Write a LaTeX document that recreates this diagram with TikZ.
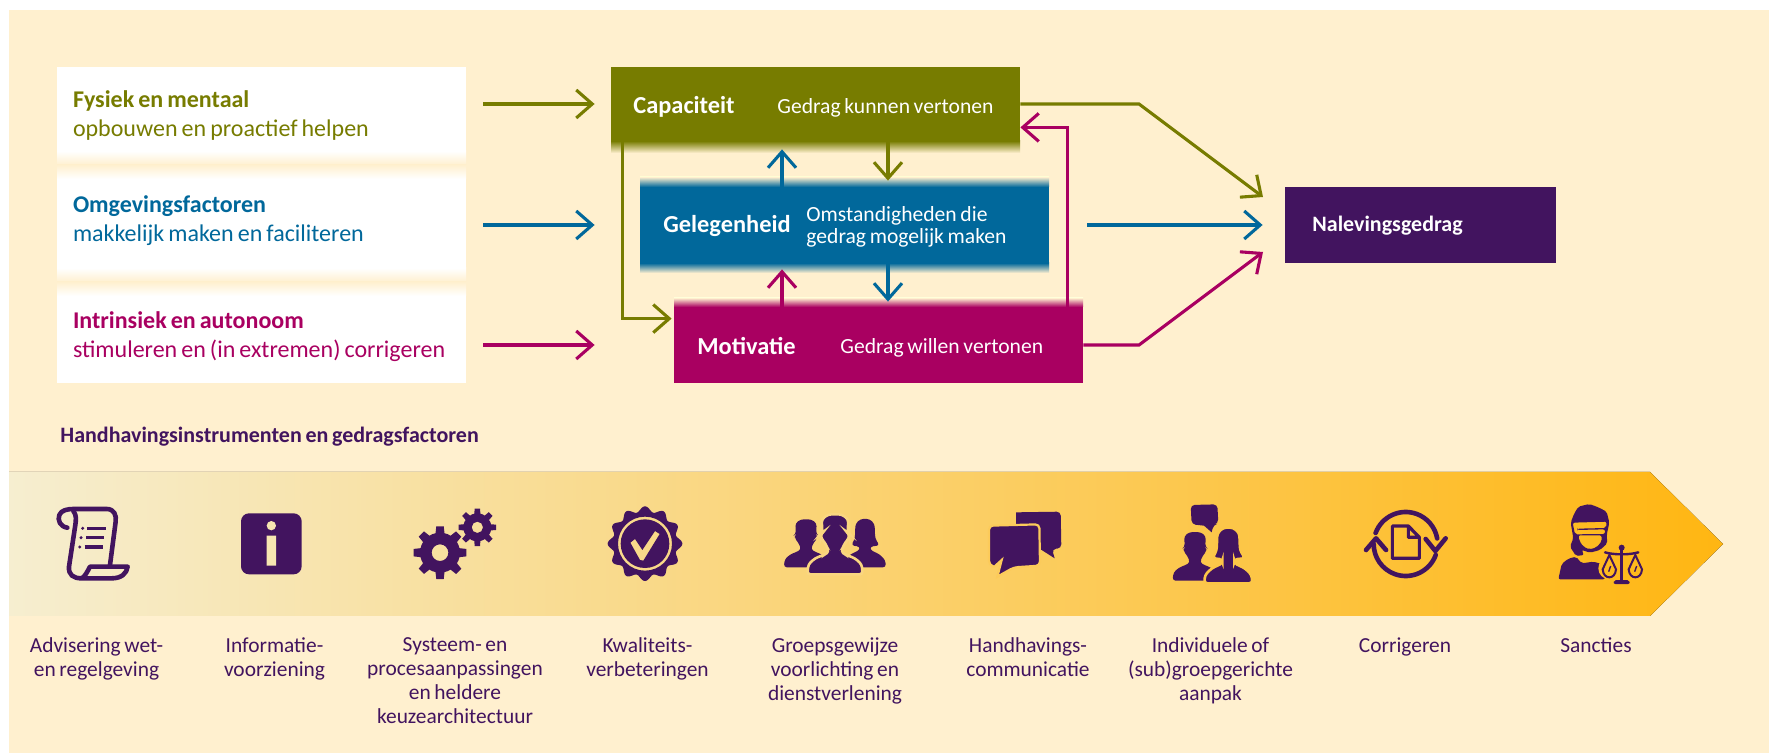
\documentclass[tikz,border=0pt]{standalone}
\usepackage{fontspec}
\setmainfont{Carlito}[WordSpace=0.75]
\usetikzlibrary{arrows.meta}

\definecolor{room}{RGB}{255,240,207}
\definecolor{olijf}{RGB}{119,124,0}
\definecolor{blauw}{RGB}{1,104,155}
\definecolor{violet}{RGB}{169,0,97}
\definecolor{paars}{RGB}{66,20,95}
\definecolor{licht}{RGB}{246,238,208}
\definecolor{goud}{RGB}{255,182,18}

\newcommand{\manfig}[4]{\path[shift={(#1,#2)},scale=#3,fill=paars,draw=#4,line width=1.3pt,rounded corners=1.5pt]
    (-83,0) -- (-80,-30) -- (-60,-48) -- (-30,-60) -- (-18,-68) -- (-30,-95) -- (-42,-108) -- (-42,-122) -- (-38,-125)
    -- (-40,-165) -- (-20,-180) -- (20,-180) -- (40,-165) -- (38,-125) -- (42,-122) -- (42,-108) -- (30,-95) -- (18,-68)
    -- (30,-60) -- (60,-48) -- (80,-30) -- (83,0) -- cycle;}
\newcommand{\vrouwfig}[4]{\path[shift={(#1,#2)},scale=#3,fill=paars,draw=#4,line width=1.3pt,rounded corners=1.5pt]
    (-72,0) -- (-70,-25) -- (-50,-45) -- (-18,-60) -- (-18,-72) -- (-47,-75) -- (-35,-100) -- (-33,-150) -- (-15,-167)
    -- (15,-167) -- (33,-150) -- (35,-100) -- (50,-75) -- (18,-72) -- (18,-60) -- (50,-45) -- (70,-25) -- (72,0) -- cycle;}
\newcommand{\tandwiel}[5]{\fill[paars,shift={(#1,#2)}] (0,0) circle[radius=#3]
    foreach \a in {0,45,...,315} {(\a-14:#3-3) -- (\a-8:#4) -- (\a+8:#4) -- (\a+14:#3-3) -- cycle}
    (#5,0) arc[start angle=0,end angle=-360,radius=#5];}

\begin{document}
\begin{tikzpicture}[x=0.5pt,y=-0.5pt,
    box_node/.style={minimum width=204.5pt,inner sep=0pt,text=white},
    name_text/.style={anchor=west,inner sep=0pt,text=white,font=\bfseries\fontsize{12.2}{14}\selectfont},
    note_text/.style={anchor=west,inner sep=0pt,text=white,align=left,font=\fontsize{10.8}{11}\selectfont},
    side_text/.style={minimum width=204.5pt,text width=188.5pt,inner xsep=8pt,inner ysep=0pt,align=flush left,font=\fontsize{12}{14.5}\selectfont},
    item_text/.style={anchor=north,inner sep=0pt,text=paars,align=center,font=\fontsize{10.7}{12}\selectfont},
    arrow_line/.style={line width=1.55pt,-{Straight Barb[length=8pt,width=14pt]}},
    icon_scope/.style={x=0.16667pt,y=-0.16667pt},
    icon_line/.style={draw=paars,line width=2.3pt,line cap=round,line join=round}]

    \useasboundingbox (0,0) rectangle (1769,753);
    \fill[room] (9,10) rectangle (1769,753);

    % left column
    \fill[white] (57,67) rectangle (466,383);
    \shade[top color=white,bottom color=room] (57,151) rectangle (466,165);
    \shade[top color=room,bottom color=white] (57,165) rectangle (466,179);
    \shade[top color=white,bottom color=room] (57,268) rectangle (466,282);
    \shade[top color=room,bottom color=white] (57,282) rectangle (466,296);
    \node[side_text,text=olijf] (fysiek) at (261.5,116) {\textbf{Fysiek en mentaal}\\opbouwen en proactief helpen};
    \node[side_text,text=blauw] (omgeving) at (261.5,220.5) {\textbf{Omgevingsfactoren}\\makkelijk maken en faciliteren};
    \node[side_text,text=violet] (intrinsiek) at (261.5,337) {\textbf{Intrinsiek en autonoom}\\stimuleren en (in extremen) corrigeren};

    % middle boxes
    \shade[top color=olijf,bottom color=room] (611,141) rectangle (1020,153);
    \shade[top color=room,bottom color=blauw] (640,177) rectangle (1049,187);
    \shade[top color=blauw,bottom color=room] (640,263) rectangle (1049,273);
    \shade[top color=room,bottom color=violet] (674,298) rectangle (1083,307);
    \node[box_node,fill=olijf,minimum height=37pt] (capaciteit) at (815.5,104) {};
    \node[box_node,fill=blauw,minimum height=38pt] (gelegenheid) at (844.5,225) {};
    \node[box_node,fill=violet,minimum height=38pt] (motivatie) at (878.5,345) {};
    \node[fill=paars,minimum width=135.5pt,minimum height=38pt,inner sep=0pt] (naleving) at (1420.5,225) {};
    \coordinate (olijf_tip) at (1263,197);
    \coordinate (violet_tip) at (1263,252);
    \coordinate (olijf_knik) at (1139,104);
    \coordinate (violet_knik) at (1139,345);

    \node[name_text] (capaciteit_naam) at (633,107) {Capaciteit};
    \node[note_text] (capaciteit_tekst) at (777,108) {Gedrag kunnen vertonen};
    \node[name_text] (gelegenheid_naam) at (663,226) {Gelegenheid};
    \node[note_text] (gelegenheid_tekst) at (806,227) {Omstandigheden die\\gedrag mogelijk maken};
    \node[name_text] (motivatie_naam) at (697,346) {Motivatie};
    \node[note_text] (motivatie_tekst) at (840,348) {Gedrag willen vertonen};
    \node[name_text,font=\bfseries\fontsize{11}{13}\selectfont] (naleving_naam) at (1312,226) {Nalevingsgedrag};

    % arrows
    \draw[arrow_line,draw=olijf,shorten <=8.5pt,shorten >=8pt] (fysiek.east |- capaciteit) -- (capaciteit);
    \draw[arrow_line,draw=blauw,shorten <=8.5pt,shorten >=22.5pt] (omgeving.east |- gelegenheid) -- (gelegenheid);
    \draw[arrow_line,draw=violet,shorten <=8.5pt,shorten >=39.5pt] (intrinsiek.east |- motivatie) -- (motivatie);
    \draw[arrow_line,draw=olijf] (capaciteit.east) -- (olijf_knik) -- (olijf_tip);
    \draw[arrow_line,draw=blauw,shorten <=19pt,shorten >=11pt] (gelegenheid) -- (naleving);
    \draw[arrow_line,draw=violet] (motivatie.east) -- (violet_knik) -- (violet_tip);
    \draw[arrow_line,draw=violet] ([xshift=-8pt]motivatie.north east) |- ([yshift=7pt]capaciteit.south east);
    \draw[arrow_line,draw=olijf,shorten >=1pt] ([xshift=6pt]capaciteit.south west) |- ([yshift=-6pt]motivatie.north west);
    \draw[arrow_line,draw=blauw,shorten >=4pt] (782,0 |- gelegenheid.north) -- (782,0 |- capaciteit.south);
    \draw[arrow_line,draw=olijf,shorten >=3pt] (888,0 |- capaciteit.south) -- (888,0 |- gelegenheid.north);
    \draw[arrow_line,draw=violet,shorten >=3pt] (782,0 |- motivatie.north) -- (782,0 |- gelegenheid.south);
    \draw[arrow_line,draw=blauw,shorten >=2.5pt] (888,0 |- gelegenheid.south) -- (888,0 |- motivatie.north);

    % band
    \node[anchor=west,inner sep=0pt,text=paars,font=\bfseries\fontsize{11}{13}\selectfont] (band_titel) at (60,437) {Handhavingsinstrumenten en gedragsfactoren};
    \fill[left color=licht,right color=goud] (9,472) -- (1650,472) -- (1723,544) -- (1650,616) -- (9,616) -- cycle;

    \node[item_text] (advies) at (96.5,637) {Advisering wet-\\en regelgeving};
    \node[item_text] (informatie) at (274.5,637) {Informatie-\\voorziening};
    \node[item_text] (systeem) at (455,637) {Systeem- en\\procesaanpassingen\\en heldere\\keuzearchitectuur};
    \node[item_text] (kwaliteit) at (647.5,637) {Kwaliteits-\\verbeteringen};
    \node[item_text] (groep) at (835,637) {Groepsgewijze\\voorlichting en\\dienstverlening};
    \node[item_text] (handhaving) at (1028,637) {Handhavings-\\communicatie};
    \node[item_text] (individu) at (1210.5,637) {Individuele of\\(sub)groepgerichte\\aanpak};
    \node[item_text] (corrigeren) at (1405,637) {Corrigeren};
    \node[item_text] (sancties) at (1596,637) {Sancties};

    % icons, scroll to gears
    \begin{scope}[shift={(40,495)},icon_scope]
        \draw[icon_line] (82,98) .. controls (60,95) and (52,75) .. (58,60) .. controls (63,45) and (85,42) .. (100,42) -- (200,42)
            .. controls (222,42) and (230,60) .. (227,80) -- (210,210);
        \draw[icon_line] (100,48) .. controls (110,60) and (108,75) .. (106,90) -- (87,215) .. controls (85,240) and (100,250) .. (125,250)
            -- (215,250) .. controls (245,250) and (260,235) .. (263,215) -- (150,215) .. controls (143,228) and (135,245) .. (125,250);
        \fill[paars] (128,100) circle[radius=5] (123,128) circle[radius=5] (119,156) circle[radius=5];
        \draw[paars,line width=1.6pt] (142,100) -- (197,100) (138,128) -- (192,128) (134,156) -- (188,156);
        \fill[paars,rounded corners=4pt] (603,55) rectangle (785,238);
        \fill[goud!16!licht] (694,92) circle[radius=14] (680,122) rectangle (708,212);
        \tandwiel{1200}{173}{60}{80}{25}
        \tandwiel{1312}{97}{42}{57}{17}
    \end{scope}

    % icons, seal to bubbles
    \begin{scope}[shift={(590,495)},icon_scope]
        \fill[paars,even odd rule] plot[domain=0:360,samples=181,shift={(165,146)}] (\x:{104+8*cos(12*\x)}) -- cycle
            (165,146) circle[radius=81] (165,146) circle[radius=73]
            (121,143) -- (135,132) -- (157,165) -- (195,108) -- (209,117) -- (160,197) -- (150,195) -- cycle;
        \manfig{648}{217}{0.8}{none}
        \vrouwfig{825}{217}{0.87}{none}
        \manfig{735}{238}{1}{goud!42!licht}
        \fill[paars,rounded corners=2pt] (1278,52) -- (1412,50) -- (1414,160) -- (1386,162) [sharp corners] -- (1394,190) -- (1355,165) -- (1280,160) -- cycle;
        \path[fill=paars,draw=goud!62!licht,line width=1.1pt,rounded corners=2pt] (1197,92) -- (1348,88) -- (1350,212) -- (1272,217) [sharp corners] -- (1222,245) -- (1235,195) -- (1213,215) [rounded corners=2pt] -- (1197,210) -- cycle;
    \end{scope}

    % icons, pair to justice
    \begin{scope}[shift={(1160,495)},icon_scope]
        \fill[paars,rounded corners=2pt] (92,30) -- (172,28) -- (175,85) -- (160,90) [sharp corners] -- (155,112) -- (132,92) [rounded corners=2pt] -- (95,88) -- cycle;
        \manfig{105}{257}{0.81}{none}
        \vrouwfig{205}{265}{1}{goud!72!licht}
        \draw[icon_line] (737,147) ++(-160:96) arc[start angle=-160,end angle=-10,radius=96];
        \draw[icon_line] (737,147) ++(20:96) arc[start angle=20,end angle=180,radius=96];
        \draw[icon_line] (618,165) -- (648,130) -- (678,165);
        \draw[icon_line] (797,132) -- (826,168) -- (857,130);
        \draw[icon_line,line width=1.6pt] (697,93) -- (745,93) -- (778,127) -- (778,190) -- (697,190) -- cycle (745,93) -- (745,127) -- (778,127);
    \end{scope}
    \begin{scope}[shift={(1550,500)},icon_scope]
        \fill[paars,even odd rule,rounded corners=1pt] (62,68) -- (72,42) -- (85,20) -- (118,12) -- (145,22) -- (170,35) -- (178,68) -- (170,105) -- (172,130) -- (150,150) -- (120,158) -- (95,150) -- (102,165) -- (78,168) -- (60,140) -- (70,115) -- cycle
            (68,68) -- (170,65) -- (168,84) -- (82,86) -- (82,90) -- (165,88) -- (165,102) -- (75,103) -- cycle
            (85,106) -- (155,106) -- (155,125) -- (138,143) -- (118,148) -- (100,140) -- (88,122) -- cycle;
        \fill[paars,rounded corners=1pt] (25,238) -- (35,192) -- (55,176) -- (78,170) -- (95,190) -- (130,185) -- (165,195) -- (165,238) -- cycle;
        \fill[goud!93!licht] (178,205) circle[radius=33];
        \fill[paars] (215,143) circle[radius=9];
        \draw[paars,line width=1.2pt] (215,143) -- (215,240);
        \draw[paars,line width=1.2pt,line cap=round] (165,157) .. controls (190,165) and (240,165) .. (265,157);
        \fill[paars,rounded corners=1pt] (190,252) -- (192,240) -- (238,240) -- (240,252) -- cycle;
        \draw[paars,line width=1pt] (178,165) -- (158,208) .. controls (160,240) and (196,240) .. (198,208) -- cycle;
        \draw[paars,line width=1pt] (256,165) -- (236,208) .. controls (238,240) and (274,240) .. (276,208) -- cycle;
        \draw[paars,line width=0.7pt] (182,198) -- (176,215) (260,198) -- (254,215);
    \end{scope}
\end{tikzpicture}
\end{document}
